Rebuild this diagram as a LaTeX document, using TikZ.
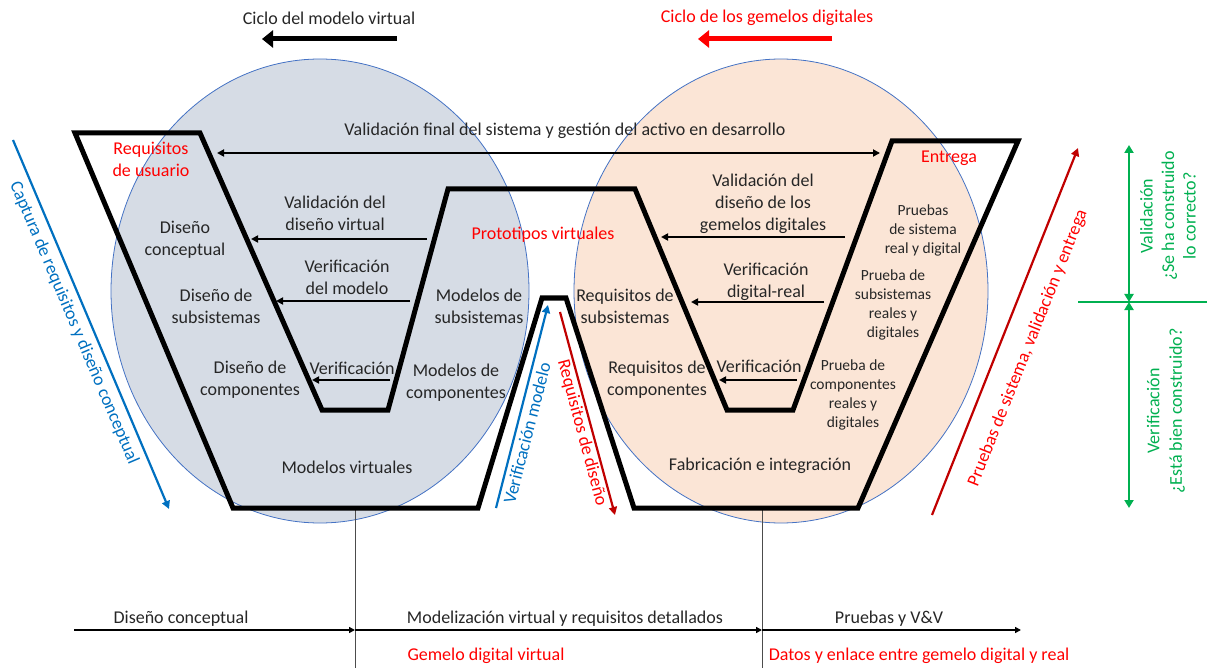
\documentclass[tikz,border=0pt]{standalone}
\usepackage{fontspec}
\setmainfont{Carlito}
\usetikzlibrary{arrows.meta}
\definecolor{tred}{HTML}{FF0000}
\definecolor{dred}{HTML}{C00000}
\definecolor{tblue}{HTML}{0070C0}
\definecolor{tgreen}{HTML}{00B050}
\definecolor{cgrey}{HTML}{D6DCE5}
\definecolor{cpeach}{HTML}{FBE5D6}
\definecolor{cedge}{HTML}{4472C4}
\definecolor{txt}{HTML}{262626}
\tikzset{
  lbl/.style={align=center,text=txt,font=\fontsize{18}{22}\selectfont,inner sep=0pt},
  slbl/.style={align=center,text=txt,font=\fontsize{15.5}{19}\selectfont,inner sep=0pt},
  rlbl/.style={align=center,text=tred,font=\fontsize{18}{22}\selectfont,inner sep=0pt},
  blbl/.style={align=center,font=\fontsize{18}{21.5}\selectfont,inner sep=0pt},
  harrow/.style={line width=1.8pt,-{Triangle[length=7pt,width=7pt]}},
  bigarrow/.style={line width=5pt,-{Triangle[length=11pt,width=17pt]}},
  diagarrow/.style={line width=2.2pt,-{Triangle[length=8pt,width=8pt]}},
  garrow/.style={line width=2.2pt,tgreen,{Triangle[length=8pt,width=9pt]}-{Triangle[length=8pt,width=9pt]}},
  tlarrow/.style={line width=1.8pt,-{Triangle[length=6pt,width=6pt]}},
  vline/.style={line width=0.6pt,black!70},
}
\begin{document}
\begin{tikzpicture}[x=1pt,y=-1pt]
\useasboundingbox (0,0) rectangle (1207,668);
% circles
\fill[cgrey] (320,291) ellipse [x radius=209, y radius=232];
\draw[cedge,line width=0.8pt] (320,291) ellipse [x radius=209, y radius=232];
\fill[cpeach] (781,291) ellipse [x radius=207, y radius=232];
\draw[cedge,line width=0.8pt] (781,291) ellipse [x radius=207, y radius=232];
% vertical thin lines
\coordinate (vl1) at (355,508); \coordinate (vl1b) at (355,668);
\coordinate (vl2) at (762,508); \coordinate (vl2b) at (762,668);
\draw[vline] (vl1) -- (vl1b);
\draw[vline] (vl2) -- (vl2b);
% main polygon
\coordinate (a1) at (75,133);
\coordinate (a2) at (233,508);
\coordinate (a3) at (478,508);
\coordinate (a4) at (542,298);
\coordinate (a5) at (566,298);
\coordinate (a6) at (634,508);
\coordinate (a7) at (858,508);
\coordinate (a8) at (1018,141);
\coordinate (a9) at (892,141);
\coordinate (a10) at (793,410);
\coordinate (a11) at (727,410);
\coordinate (a12) at (635,189);
\coordinate (a13) at (448,189);
\coordinate (a14) at (388,410);
\coordinate (a15) at (322,410);
\coordinate (a16) at (200,133);
\draw[line width=5pt,line join=miter] (a1) -- (a2) -- (a3) -- (a4) -- (a5) -- (a6) -- (a7) -- (a8) -- (a9) -- (a10) -- (a11) -- (a12) -- (a13) -- (a14) -- (a15) -- (a16) -- cycle;
% top titles
\node[lbl] (t1) at (329,18) {Ciclo del modelo virtual};
\coordinate (t1a) at (397,39); \coordinate (t1b) at (262,39);
\draw[bigarrow] (t1a) -- (t1b);
\node[rlbl] (t2) at (767,18) {Ciclo de los gemelos digitales};
\coordinate (t2a) at (832,39); \coordinate (t2b) at (698,39);
\draw[bigarrow,tred] (t2a) -- (t2b);
% top long double arrow
\node[lbl] (vf) at (565,131) {Validación final del sistema y gestión del activo en desarrollo};
\coordinate (vfl) at (217,153); \coordinate (vfr) at (880,153);
\draw[line width=1.8pt,{Triangle[length=7pt,width=7pt]}-{Triangle[length=7pt,width=7pt]}] (vfl) -- (vfr);
% left V labels
\node[rlbl] (ru) at (151,159) {Requisitos\\de usuario};
\node[lbl] (dc) at (185,240) {Diseño\\conceptual};
\node[lbl] (ds) at (216,306) {Diseño de\\subsistemas};
\node[lbl] (dcomp) at (250,380) {Diseño de\\componentes};
\node[lbl] (mv) at (347,467) {Modelos virtuales};
\node[lbl] (vdv) at (335,213) {Validación del\\diseño virtual};
\coordinate (vdva) at (427,239); \coordinate (vdvb) at (251,239);
\draw[harrow] (vdva) -- (vdvb);
\node[lbl] (vm) at (347,277) {Verificación\\del modelo};
\coordinate (vma) at (410,301); \coordinate (vmb) at (276,301);
\draw[harrow] (vma) -- (vmb);
\node[lbl] (v1) at (352,368) {Verificación};
\coordinate (v1a) at (390,380); \coordinate (v1b) at (312,380);
\draw[harrow] (v1a) -- (v1b);
\node[lbl] (ms) at (479,306) {Modelos de\\subsistemas};
\node[lbl] (mc) at (456,383) {Modelos de\\componentes};
\node[rlbl] (pv) at (543,235) {Prototipos virtuales};
% right V labels
\node[lbl] (rs) at (625,306) {Requisitos de\\subsistemas};
\node[lbl] (rc) at (657,380) {Requisitos de\\componentes};
\node[lbl] (fi) at (760,466) {Fabricación e integración};
\node[rlbl] (en) at (949,158) {Entrega};
\node[lbl] (vgd) at (763,204) {Validación del\\diseño de los\\gemelos digitales};
\coordinate (vgda) at (845,237); \coordinate (vgdb) at (661,237);
\draw[harrow] (vgda) -- (vgdb);
\node[lbl] (vdr) at (766,282) {Verificación\\digital-real};
\coordinate (vdra) at (824,302); \coordinate (vdrb) at (691,302);
\draw[harrow] (vdra) -- (vdrb);
\node[lbl] (v2) at (759,366) {Verificación};
\coordinate (v2a) at (797,380); \coordinate (v2b) at (719,380);
\draw[harrow] (v2a) -- (v2b);
\node[slbl] (ps) at (923,230) {Pruebas\\de sistema\\real y digital};
\node[slbl] (pss) at (893,305) {Prueba de\\subsistemas\\reales y\\digitales};
\node[slbl] (pcc) at (853,395) {Prueba de\\componentes\\reales y\\digitales};
% diagonal arrows
\coordinate (ca) at (13,140); \coordinate (cb) at (169,509);
\draw[diagarrow,tblue] (ca) -- (cb);
\node[blbl,text=tblue,rotate=-67] (cap) at (74,323) {Captura de requisitos y diseño conceptual};
\coordinate (vma2) at (496,508); \coordinate (vmb2) at (548,305);
\draw[diagarrow,tblue] (vma2) -- (vmb2);
\node[blbl,text=tblue,rotate=75.6] (vmod) at (527,433) {Verificación modelo};
\coordinate (rda) at (560,312); \coordinate (rdb) at (615,515);
\draw[diagarrow,dred] (rda) -- (rdb);
\node[blbl,text=tred,rotate=-75] (rdis) at (582,433) {Requisitos de diseño};
\coordinate (psa) at (932,515); \coordinate (psb) at (1078,148);
\draw[diagarrow,dred] (psa) -- (psb);
\node[blbl,text=tred,rotate=68.3] (psv) at (1028,348) {Pruebas de sistema, validación y entrega};
% green
\coordinate (gh1) at (1078,302); \coordinate (gh2) at (1207,302);
\draw[line width=2.2pt,tgreen] (gh1) -- (gh2);
\coordinate (gv1) at (1129,145); \coordinate (gv2) at (1129,302); \coordinate (gv3) at (1129,508);
\draw[garrow] (gv1) -- (gv2);
\draw[garrow] (gv2) -- (gv3);
\node[blbl,text=tgreen,rotate=90] (gval) at (1168,216) {Validación\\¿Se ha construido\\lo correcto?};
\node[blbl,text=tgreen,rotate=90,font=\fontsize{18}{22.5}\selectfont] (gver) at (1166,411) {Verificación\\¿Está bien construido?};
% timeline
\coordinate (tl0) at (74,630); \coordinate (tl1) at (355,630);
\coordinate (tl2) at (762,630); \coordinate (tl3) at (1021,630);
\draw[tlarrow] (tl0) -- (tl1);
\draw[tlarrow] (tl1) -- (tl2);
\draw[tlarrow] (tl2) -- (tl3);
\node[blbl,text=txt] (b1) at (181,619) {Diseño conceptual};
\node[blbl,text=txt] (b2) at (565,619) {Modelización virtual y requisitos detallados};
\node[blbl,text=txt] (b3) at (889,619) {Pruebas y V\&V};
\node[blbl,text=tred] (b4) at (486,656) {Gemelo digital virtual};
\node[blbl,text=tred] (b5) at (919,656) {Datos y enlace entre gemelo digital y real};
\end{tikzpicture}
\end{document}
